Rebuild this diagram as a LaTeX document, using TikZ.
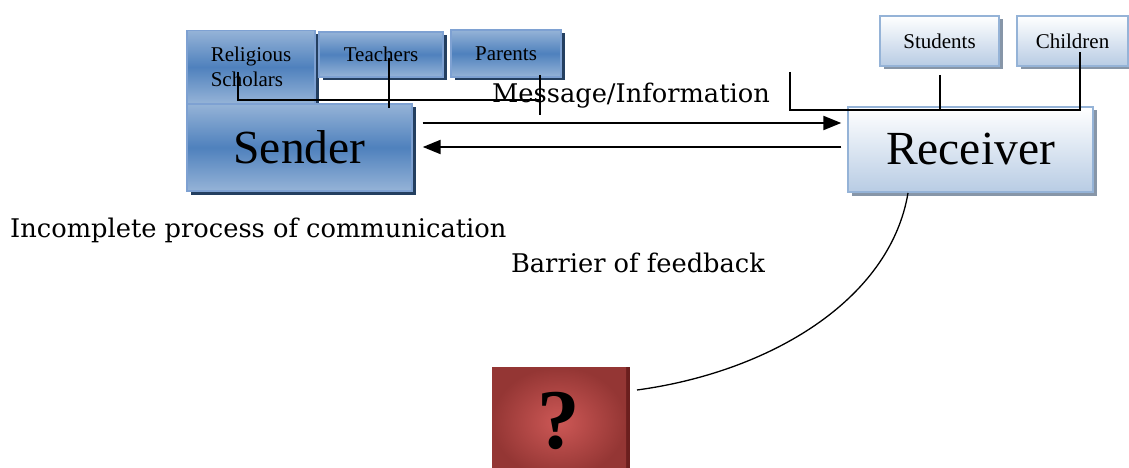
\documentclass[tikz,border=0pt]{standalone}
\usepackage{fontspec}
\setmainfont{Liberation Serif}
\newfontfamily\geo{DejaVu Serif}
\usetikzlibrary{shadows,arrows.meta,calc}
\definecolor{bluemid}{HTML}{4F81BD}
\definecolor{bluelight}{HTML}{95B3D7}
\definecolor{boxedge}{HTML}{7EA1D2}
\definecolor{navyshadow}{HTML}{243F60}
\definecolor{recblue}{HTML}{B8CCE4}
\definecolor{recedge}{HTML}{95B3D7}
\definecolor{grayshadow}{HTML}{8796A8}
\definecolor{qin}{HTML}{CD5856}
\definecolor{qout}{HTML}{943634}
\definecolor{qshadow}{HTML}{6B1F1E}
\begin{document}
\begin{tikzpicture}[x=1pt,y=-1pt,
  bluebox/.style={draw=boxedge, line width=1.4pt, top color=bluelight, bottom color=bluelight, middle color=bluemid,
    general shadow={shadow xshift=3.5pt, shadow yshift=-3.5pt, fill=navyshadow}, inner sep=0pt, font=\fontsize{21}{24.5}\selectfont},
  lightbox/.style={draw=recedge, line width=1.4pt, top color=white, bottom color=recblue,
    general shadow={shadow xshift=3.5pt, shadow yshift=-3.5pt, fill=grayshadow}, inner sep=0pt, font=\fontsize{21}{24.5}\selectfont},
  conn/.style={line width=1.6pt},
  arr/.style={line width=2.2pt, -{Triangle[length=18pt,width=14pt]}},
  label/.style={font=\geo\fontsize{25.7}{30}\selectfont, inner sep=0pt}]
\useasboundingbox (0,0) rectangle (1129,468);
\clip (0,0) rectangle (1129,468);

% texts
\node[label, anchor=west] (inc) at (10,230) {Incomplete process of communication};
\node[label] (msg) at (631,96) {Message/Information};
\node[label] (bar) at (638,263) {Barrier of feedback};

% sender side
\node[bluebox, minimum width=128pt, minimum height=73pt, align=left] (rs) at (251,67) {Religious\\Scholars};
\node[bluebox, minimum width=124pt, minimum height=45pt] (te) at (381,54.5) {Teachers};
\node[bluebox, minimum width=110pt, minimum height=47pt] (pa) at (506,53.5) {Parents};
\node[bluebox, minimum width=225pt, minimum height=87pt, font=\fontsize{47.5}{50}\selectfont] (sender) at (299.5,147.5) {Sender};

% receiver side
\node[lightbox, minimum width=119pt, minimum height=50pt] (st) at (939.5,41) {Students};
\node[lightbox, minimum width=111pt, minimum height=50pt] (ch) at (1072.5,41) {Children};
\node[lightbox, minimum width=245pt, minimum height=85pt, font=\fontsize{47.5}{50}\selectfont] (receiver) at (970.5,149.5) {Receiver};

% question box
\node[draw=none, minimum width=134pt, minimum height=110pt, inner color=qin, outer color=qout,
  general shadow={shadow xshift=4pt, shadow yshift=0pt, fill=qshadow}, inner sep=0pt] (q) at (559,422) {};
\node[font=\bfseries\fontsize{85}{88}\selectfont, inner sep=0pt] (qm) at (559,421) {?};

% sender connectors
\coordinate (rsA) at (238,72);
\coordinate (rsB) at (238,100);
\coordinate (jn) at (540,100);
\coordinate (teA) at (389,58);
\coordinate (teB) at (389,108);
\coordinate (paA) at (540,75);
\coordinate (paB) at (540,115);
\draw[conn] (rsA) -- (rsB) -- (jn);
\draw[conn] (teA) -- (teB);
\draw[conn] (paA) -- (paB);

% receiver connectors
\coordinate (rvA) at (790,72);
\coordinate (rvB) at (790,110);
\coordinate (chB) at (1080,110);
\coordinate (chA) at (1080,52);
\coordinate (stA) at (940,75);
\coordinate (stB) at (940,110);
\draw[conn] (rvA) -- (rvB) -- (chB) -- (chA);
\draw[conn] (stA) -- (stB);

% arrows
\draw[arr] ($(sender.east)+(10,-24.5)$) -- ($(receiver.west)+(-6,-26.5)$);
\draw[arr] ($(receiver.west)+(-6,-2.5)$) -- ($(sender.east)+(10,-0.5)$);

% feedback curve
\coordinate (cs) at (908,193);
\coordinate (ce) at (637,390);
\draw[line width=1.3pt] (cs) .. controls (890,300) and (770,372) .. (ce);
\end{tikzpicture}
\end{document}
